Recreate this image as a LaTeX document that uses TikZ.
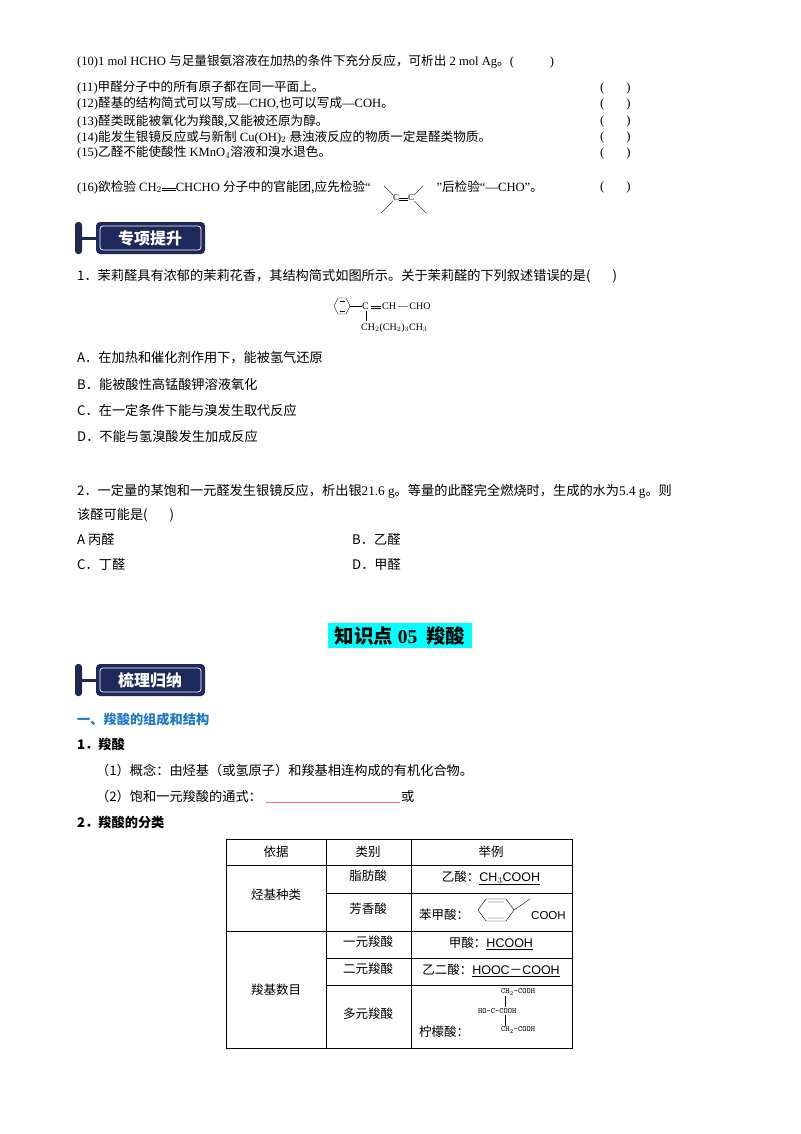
\documentclass[tikz,border=0pt]{standalone}
\usepackage{fontspec}
\setmainfont{Liberation Serif}
\newfontfamily\cjk{Noto Sans CJK SC}
\newfontfamily\sans{Liberation Sans}
\definecolor{hlcyan}{RGB}{0,255,255}
\newcommand{\dbond}[1]{\raisebox{2.2pt}{\rule{#1}{0.6pt}}\kern-#1\raisebox{0.2pt}{\rule{#1}{0.6pt}}}
\begin{document}
\begin{tikzpicture}[x=1pt,y=-1pt,
 t/.style={anchor=west,inner sep=0,font=\fontsize{12.6}{14}\selectfont},
 tq/.style={anchor=west,inner sep=0,font=\fontsize{13.2}{15}\selectfont},
 tqc/.style={anchor=west,inner sep=0,font=\cjk\fontsize{13.2}{15}\selectfont},
 tc/.style={inner sep=0,font=\cjk\fontsize{12.5}{14}\selectfont}]
\useasboundingbox (0,0) rectangle (800,1134);
\fill[white] (0,0) rectangle (800,1134);
% top statements
\node[t] (s10) at (77,62) {(10)1 mol HCHO {\cjk 与足量银氨溶液在加热的条件下充分反应，可析出} 2 mol Ag{\cjk 。}(\hspace{36pt})};
\foreach \y/\s [count=\i] in {88/{(11){\cjk 甲醛分子中的所有原子都在同一平面上。}},
 104/{(12){\cjk 醛基的结构简式可以写成}—CHO,{\cjk 也可以写成}—COH{\cjk 。}},
 121/{(13){\cjk 醛类既能被氧化为羧酸,又能被还原为醇。}},
 137/{(14){\cjk 能发生银镜反应或与新制} Cu(OH)$_2$ {\cjk 悬浊液反应的物质一定是醛类物质。}},
 153/{(15){\cjk 乙醛不能使酸性} KMnO$_4${\cjk 溶液和溴水退色。}}}
 {\node[t] (r\i) at (77,\y) {\s}; \node[t] (p\i) at (600,\y) {(\hspace{22pt})};}
\node[t] (s16) at (77,187) {(16){\cjk 欲检验} CH$_2$\dbond{14pt}CHCHO {\cjk 分子中的官能团,应先检验}“};
\node[t] at (600,187) {(\hspace{22pt})};
\node[inner sep=0,font=\fontsize{9}{10}\selectfont,anchor=west] (cc) at ([xshift=22pt,yshift=-11pt]s16.east) {C\dbond{9pt}C};
\draw[thin] (cc.north west) -- ++(-9,-9) (cc.north east) -- ++(9,-9)
 (cc.south west) -- ++(-12,12) (cc.south east) -- ++(12,12);
\node[t] (s16b) at ([xshift=22pt,yshift=11pt]cc.east) {”{\cjk 后检验}“—CHO”{\cjk 。}};
% badges
\foreach \y/\lab/\n in {238/专项提升/b1,680/梳理归纳/b2}{
 \fill[rounded corners=3pt,fill={rgb,255:red,30;green,40;blue,80}] (75,\y-16) rectangle (82,\y+16);
 \fill[fill={rgb,255:red,30;green,40;blue,80}] (80,\y-1.5) rectangle (98,\y+1.5);
 \fill[rounded corners=4pt,fill={rgb,255:red,30;green,40;blue,90}] (96,\y-16) rectangle (205,\y+16);
 \draw[rounded corners=3pt,white,line width=0.7pt] (100,\y-12) rectangle (201,\y+12);
 \node[tc,white,font=\cjk\bfseries\fontsize{16}{18}\selectfont] (\n) at (150,\y) {\lab};
}
% Q1
\node[tqc] (q1) at (77,276) {1．茉莉醛具有浓郁的茉莉花香，其结构简式如图所示。关于茉莉醛的下列叙述错误的是(\hspace{22pt})};
\draw[thin] (338,298)--(346,298)--(350,306)--(346,314)--(338,314)--(334,306)--cycle;
\draw[thin] (339.5,301)--(344.5,301) (339.5,311)--(344.5,311);
\node[inner sep=0,font=\fontsize{10}{11}\selectfont,anchor=west] (mol) at (362,306) {C\,\dbond{10pt}\,CH\,—\,CHO};
\draw[thin] (350,306)--(362,306) (366,311)--(366,321);
\node[inner sep=0,font=\fontsize{10}{11}\selectfont,anchor=west] (sub) at (361,328) {CH$_2$(CH$_2$)$_3$CH$_3$};
\foreach \y/\s in {358/{A．在加热和催化剂作用下，能被氢气还原},384/{B．能被酸性高锰酸钾溶液氧化},410/{C．在一定条件下能与溴发生取代反应},436/{D．不能与氢溴酸发生加成反应}}
 \node[tqc] at (77,\y) {\s};
% Q2
\node[tqc] at (77,491) {2．一定量的某饱和一元醛发生银镜反应，析出银{\rmfamily 21.6 g}。等量的此醛完全燃烧时，生成的水为{\rmfamily 5.4 g}。则};
\node[tqc] at (77,515) {该醛可能是(\hspace{22pt})};
\node[tqc] at (77,539) {A 丙醛};
\node[tqc] at (352,539) {B．乙醛};
\node[tqc] at (77,564) {C．丁醛};
\node[tqc] at (352,564) {D．甲醛};
% title
\fill[hlcyan] (328,623) rectangle (472,648);
\node[inner sep=0,font=\cjk\bfseries\fontsize{19.5}{21}\selectfont] (title) at (400,636) {知识点 {\rmfamily\bfseries 05}\ \ 羧酸};
% section
\node[tqc,font=\cjk\bfseries\fontsize{13.2}{15}\selectfont,text={rgb,255:red,30;green,120;blue,200}] at (77,719) {一、羧酸的组成和结构};
\node[tqc,font=\cjk\bfseries\fontsize{13.2}{15}\selectfont] at (77,744) {1．羧酸};
\node[tqc] at (96,770) {（1）概念：由烃基（或氢原子）和羧基相连构成的有机化合物。};
\node[tqc] at (96,796) {（2）饱和一元羧酸的通式：};
\draw[red!60,line width=0.8pt] (266,802)--(400,802);
\node[tqc] at (401,796) {或};
\node[tqc,font=\cjk\bfseries\fontsize{13.2}{15}\selectfont] at (77,822) {2．羧酸的分类};
% table
\draw[thin] (226,839) rectangle (572,1048);
\draw[thin] (326,839)--(326,1048) (411,839)--(411,1048) (226,865)--(572,865) (226,931)--(572,931)
 (326,893)--(572,893) (326,958)--(572,958) (326,985)--(572,985);
\node[tc] at (276,852) {依据}; \node[tc] at (368,852) {类别}; \node[tc] at (491,852) {举例};
\node[tc] at (276,895) {烃基种类}; \node[tc] at (276,990) {羧基数目};
\node[tc] at (368,876) {脂肪酸}; \node[tc] at (368,909) {芳香酸};
\node[tc] at (368,942) {一元羧酸}; \node[tc] at (368,969) {二元羧酸}; \node[tc] at (368,1014) {多元羧酸};
\node[tc] at (491,878) {乙酸：{\sans\underline{CH$_3$COOH}}};
\node[tc,anchor=west] at (419,915) {苯甲酸：};
\draw[thin] (478,910)--(486,899)--(506,899)--(514,910)--(506,921)--(486,921)--cycle (488,902)--(504,902) (488,918)--(504,918) (514,910)--(530,899);
\node[tc,anchor=west,font=\sans\fontsize{11.5}{12}\selectfont] at (531,916) {COOH};
\node[tc] at (491,943) {甲酸：{\sans\underline{HCOOH}}};
\node[tc] at (491,970) {乙二酸：\underline{{\sans HOOC}－{\sans COOH}}};
\node[tc,anchor=west] at (419,1032) {柠檬酸：};
\begin{scope}[font=\ttfamily\fontsize{8}{9}\selectfont]
\node[inner sep=0,anchor=west] (c1) at (501,992) {CH$_2$-COOH};
\node[inner sep=0,anchor=west] (c2) at (478,1011) {HO-C-COOH};
\node[inner sep=0,anchor=west] (c3) at (501,1030) {CH$_2$-COOH};
\draw[thin] (505,996)--(505,1007) (505,1015)--(505,1026);
\end{scope}
\end{tikzpicture}
\end{document}
